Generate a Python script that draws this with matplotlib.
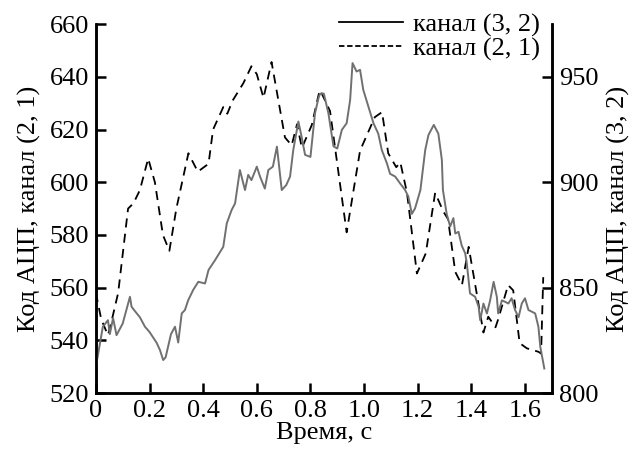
import matplotlib
matplotlib.use('Agg')
import matplotlib.pyplot as plt
from matplotlib.lines import Line2D

plt.rcParams['font.family'] = ['Liberation Serif', 'DejaVu Serif']
plt.rcParams['font.size'] = 19

# канал (2, 1) - левая ось
t21 = [0.0, 0.02, 0.045, 0.06, 0.083, 0.12, 0.14, 0.164, 0.195, 0.22, 0.25, 0.274,
       0.30, 0.345, 0.38, 0.42, 0.437, 0.475, 0.49, 0.51, 0.55, 0.58, 0.60, 0.625,
       0.655, 0.705, 0.73, 0.75, 0.768, 0.805, 0.83, 0.836, 0.873, 0.935, 0.985,
       1.04, 1.067, 1.09, 1.12, 1.135, 1.16, 1.197, 1.23, 1.265, 1.295, 1.313, 1.34,
       1.365, 1.39, 1.445, 1.463, 1.49, 1.50, 1.537, 1.556, 1.58, 1.607, 1.65, 1.66,
       1.668]
v21 = [558, 548, 542, 548, 558, 590, 592, 597, 609, 600, 580, 574,
       590, 611, 604, 607, 620, 628.5, 626, 631, 637.6, 644, 641, 632,
       645.6, 617, 614, 622, 613, 621.7, 633, 635, 627, 581, 612,
       624.7, 626.6, 611, 605.7, 607.6, 596, 565.4, 573, 596, 589, 586, 566,
       561, 575.5, 543, 549, 545, 548, 561, 559, 539, 537, 535.7, 535,
       564]

# канал (3, 2) - правая ось
t32 = [0.0, 0.026, 0.045, 0.052, 0.064, 0.077, 0.10, 0.127, 0.133, 0.145, 0.164,
       0.183, 0.20, 0.226, 0.239, 0.251, 0.26, 0.28, 0.295, 0.307, 0.32, 0.332,
       0.344, 0.363, 0.382, 0.407, 0.42, 0.444, 0.475, 0.488, 0.506, 0.519, 0.537,
       0.556, 0.568, 0.58, 0.60, 0.612, 0.63, 0.643, 0.66, 0.675, 0.693, 0.71,
       0.724, 0.736, 0.755, 0.767, 0.78, 0.80, 0.817, 0.83, 0.836, 0.85, 0.867,
       0.886, 0.90, 0.917, 0.935, 0.948, 0.957, 0.972, 0.985, 0.997, 1.016, 1.035,
       1.053, 1.066, 1.085, 1.097, 1.116, 1.134, 1.153, 1.165, 1.178, 1.19, 1.21,
       1.228, 1.24, 1.26, 1.277, 1.29, 1.294, 1.308, 1.321, 1.333, 1.34, 1.352,
       1.364, 1.377, 1.383, 1.395, 1.414, 1.427, 1.433, 1.445, 1.458, 1.47, 1.483,
       1.495, 1.50, 1.514, 1.526, 1.538, 1.55, 1.563, 1.576, 1.588, 1.60, 1.613,
       1.626, 1.638, 1.65, 1.657, 1.672]
v32 = [812.5, 831.5, 834.6, 828, 835.6, 827.5, 833, 845.7, 841, 839, 836,
       831.5, 829, 824, 820.4, 815.7, 817, 828, 831.5, 824, 837.8, 839.4,
       844, 849, 852.8, 852, 858.4, 863, 869.4, 880.5, 886.8, 890, 905.8,
       896.3, 903.5, 901, 907.4, 902.7, 897, 905.8, 907.4, 916.9, 896.3, 898.7,
       902.7, 915.3, 928.8, 921.6, 913, 912, 932.7, 939.9, 942, 942, 932.7,
       917, 916, 924.8, 928, 939, 956.5, 952.5, 953.3, 943.8, 935.9, 928,
       923, 915.3, 909, 904, 902.7, 899.5, 896.3, 893.2, 885, 887.6, 896.3,
       915.3, 922.4, 927.2, 923, 910.6, 896.3, 885, 879, 883, 875.7, 876.5,
       870, 866.3, 861.5, 847.3, 845.7, 841, 834.6, 842.5, 837.8, 844, 852.8,
       845.7, 837.8, 844, 843.3, 842.5, 845, 839.4, 836, 842.5, 845, 839.4,
       838.6, 837.8, 831.5, 822, 811.7]

x_ticks = [0, 0.2, 0.4, 0.6, 0.8, 1.0, 1.2, 1.4, 1.6]
x_labels = ['0', '0.2', '0.4', '0.6', '0.8', '1.0', '1.2', '1.4', '1.6']
left_ticks = [520, 540, 560, 580, 600, 620, 640, 660]
right_ticks = [800, 850, 900, 950]

fig = plt.figure(figsize=(6.35, 4.54), dpi=100)
ax = fig.add_axes([0.151, 0.134, 0.718, 0.813])
ax2 = ax.twinx()

ax.plot(t21, v21, color='black', lw=1.3, dashes=(5, 3.5))
ax2.plot(t32, v32, color='#707070', lw=1.4)

ax.set_xlim(0, 1.70)
ax.set_ylim(520, 660)
ax2.set_ylim(800, 975)

ax.set_xticks(x_ticks)
ax.set_xticklabels(x_labels)
ax.set_yticks(left_ticks)
ax2.set_yticks(right_ticks)

for a in (ax, ax2):
    a.spines['top'].set_visible(False)
    for s in a.spines.values():
        s.set_linewidth(1.8)
    a.tick_params(direction='in', length=7, width=1.8, labelsize=19, pad=5)

ax.set_xlabel('Время, с', fontsize=19, labelpad=0)
ax.set_ylabel('Код АЦП, канал (2, 1)', fontsize=19, labelpad=6)
ax2.set_ylabel('Код АЦП, канал (3, 2)', fontsize=19, labelpad=6)

handles = [Line2D([], [], color='black', lw=1.3),
           Line2D([], [], color='black', lw=1.3, dashes=(3, 1.5))]
fig.legend(handles, ['канал (3, 2)', 'канал (2, 1)'], loc='upper right',
           bbox_to_anchor=(0.88, 1.012), frameon=False, fontsize=19,
           handlelength=2.4, handletextpad=0.4, labelspacing=0.0,
           borderpad=0.2)

fig.savefig('out.png', dpi=100)
